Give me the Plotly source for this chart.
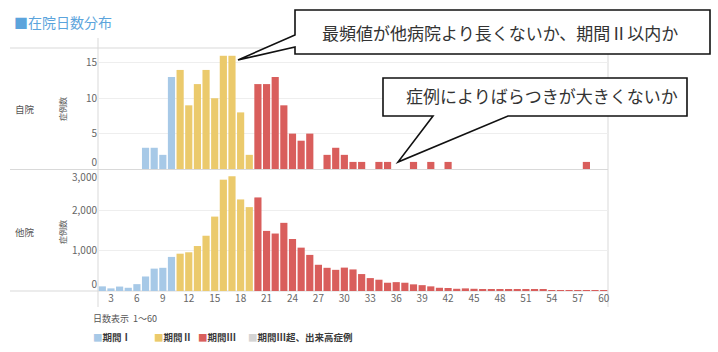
import plotly.graph_objects as go

# ---------------- data ----------------
days_p1 = list(range(2, 11))      # 期間Ⅰ
days_p2 = list(range(11, 20))     # 期間Ⅱ
days_p3 = list(range(20, 61))     # 期間Ⅲ

own_p1 = [0, 0, 0, 0, 0, 3, 3, 2, 13]
own_p2 = [14, 9, 12, 14, 10, 16, 16, 8, 2]
own_p3 = [12, 12, 13, 9, 5, 4, 5, 0, 2, 3, 2, 1, 1, 0, 1, 1, 0, 0, 1, 0,
          1, 0, 1, 0, 0, 0, 0, 0, 0, 0, 0, 0, 0, 0, 0, 0, 0, 0, 1, 0, 0]

other_p1 = [115, 65, 110, 80, 170, 360, 555, 575, 845]
other_p2 = [925, 960, 1115, 1370, 1845, 2760, 2845, 2270, 2080]
other_p3 = [2320, 1490, 1425, 1690, 1290, 1075, 895, 650, 575, 525,
            580, 535, 420, 320, 280, 205, 220, 205, 165, 145,
            115, 80, 75, 55, 65, 55, 50, 50, 30, 25,
            50, 40, 40, 40, 20, 20, 20, 20, 20, 20, 20]

x_ticks = list(range(3, 61, 3))
own_ticks = [5, 10, 15]
other_ticks = [1000, 2000]
other_ticktext = ["1,000", "2,000"]

period_names = ["期間Ⅰ", "期間Ⅱ", "期間Ⅲ", "期間Ⅲ超、出来高症例"]
colors = ["#a7c9e7", "#ebca6c", "#d95e5c", "#d4d4d4"]

FONT = "Noto Sans CJK JP"
W, H = 718, 352
L, R, T, B = 98, 110, 48, 61
PW, PH = W - L - R, H - T - B


def px(x):
    return (x - L) / PW


def py(y):
    return (H - B - y) / PH


fig = go.Figure()

series = [(days_p1, own_p1, other_p1), (days_p2, own_p2, other_p2), (days_p3, own_p3, other_p3)]
for i, (d, own, oth) in enumerate(series):
    fig.add_trace(go.Bar(x=d, y=own, marker_color=colors[i], marker_line_width=0,
                         name=period_names[i], showlegend=False, xaxis="x", yaxis="y"))
    fig.add_trace(go.Bar(x=d, y=oth, marker_color=colors[i], marker_line_width=0,
                         name=period_names[i], showlegend=False, xaxis="x2", yaxis="y2"))

# invisible traces to activate the overlay axes (edge labels)
for ya, xa in [("y3", "x"), ("y4", "x2"), ("y5", "x2")]:
    fig.add_trace(go.Scatter(x=[None], y=[None], xaxis=xa, yaxis=ya, showlegend=False,
                             hoverinfo="skip"))

tickfont = dict(family=FONT, size=10, color="#666666")
grid = "#eeeeee"
top_dom = [py(169), 1]
bot_dom = [0, py(170)]

fig.update_layout(
    width=W, height=H,
    margin=dict(l=L, r=R, t=T, b=B, pad=0),
    paper_bgcolor="white", plot_bgcolor="white",
    font=dict(family=FONT, color="#555555"),
    bargap=0.17,
    showlegend=False,
    xaxis=dict(domain=[0, 1], anchor="y", range=[1.5, 60.5], showticklabels=False,
               showgrid=False, zeroline=False, showline=False, ticks=""),
    yaxis=dict(domain=top_dom, anchor="x", range=[0, 17.1], tickvals=own_ticks,
               showgrid=True, gridcolor=grid, zeroline=False, showline=False, ticks="",
               tickfont=tickfont),
    yaxis3=dict(domain=top_dom, overlaying="y", anchor="x", range=[0, 17.1], tickvals=[0],
                showgrid=False, zeroline=False, showline=False, ticks="",
                ticklabelposition="outside top", tickfont=tickfont),
    xaxis2=dict(domain=[0, 1], anchor="y2", range=[1.5, 60.5], tickvals=x_ticks,
                showgrid=False, zeroline=False, showline=False, ticks="",
                tickfont=tickfont),
    yaxis2=dict(domain=bot_dom, anchor="x2", range=[0, 3000], tickvals=other_ticks,
                ticktext=other_ticktext, showgrid=True, gridcolor=grid, zeroline=False,
                showline=False, ticks="", tickfont=tickfont),
    yaxis4=dict(domain=bot_dom, overlaying="y2", anchor="x2", range=[0, 3000], tickvals=[0],
                showgrid=False, zeroline=False, showline=False, ticks="",
                ticklabelposition="outside top", tickfont=tickfont),
    yaxis5=dict(domain=bot_dom, overlaying="y2", anchor="x2", range=[0, 3000], tickvals=[3000],
                ticktext=["3,000"], showgrid=False, zeroline=False, showline=False, ticks="",
                ticklabelposition="outside bottom", tickfont=tickfont),
)

line_c = "#d9d9d9"
shapes = []
for yy in [48, 169.5, 291]:
    shapes.append(dict(type="line", xref="paper", yref="paper", x0=px(10), x1=px(608),
                       y0=py(yy), y1=py(yy), line=dict(color=line_c, width=1), layer="below"))
for xx in [98, 608]:
    shapes.append(dict(type="line", xref="paper", yref="paper", x0=px(xx), x1=px(xx),
                       y0=py(38), y1=py(307), line=dict(color=line_c, width=1), layer="below"))


def path(points):
    s = "M " + " L ".join(f"{px(a):.5f},{py(b):.5f}" for a, b in points) + " Z"
    return s


bubble1 = [(295, 10), (710, 10), (710, 54), (295, 54), (295, 47), (238, 60), (295, 35)]
bubble2 = [(383, 78), (687, 78), (687, 116), (508, 116), (398, 162), (433, 116), (383, 116)]
for bpts in [bubble1, bubble2]:
    shapes.append(dict(type="path", xref="paper", yref="paper", path=path(bpts),
                       fillcolor="white", line=dict(color="#111111", width=1.6), layer="above"))
fig.update_layout(shapes=shapes)

ann = []
ann.append(dict(text="■在院日数分布", x=px(12), y=py(22), xref="paper", yref="paper",
                xanchor="left", yanchor="middle", showarrow=False,
                font=dict(family=FONT, size=14, color="#5ba4dc")))
for label, yy in [("自院", 109), ("他院", 232)]:
    ann.append(dict(text=label, x=px(13), y=py(yy), xref="paper", yref="paper",
                    xanchor="left", yanchor="middle", showarrow=False,
                    font=dict(family=FONT, size=9.5, color="#555555")))
    ann.append(dict(text="症例数", x=px(62), y=py(yy), xref="paper", yref="paper",
                    xanchor="center", yanchor="middle", showarrow=False, textangle=-90,
                    font=dict(family=FONT, size=8, color="#555555")))
ann.append(dict(text="日数表示  1～60", x=px(91), y=py(318), xref="paper", yref="paper",
                xanchor="left", yanchor="middle", showarrow=False,
                font=dict(family=FONT, size=9, color="#555555")))
legend_x = [91, 152, 196, 246]
for name, c, xx in zip(period_names, colors, legend_x):
    ann.append(dict(text=f"<span style='color:{c}'>■</span><b>{name}</b>", x=px(xx), y=py(337),
                    xref="paper", yref="paper", xanchor="left", yanchor="middle",
                    showarrow=False, font=dict(family=FONT, size=9.5, color="#3a3a3a")))
ann.append(dict(text="最頻値が他病院より長くないか、期間Ⅱ以内か", x=px(500), y=py(32),
                xref="paper", yref="paper", xanchor="center", yanchor="middle",
                showarrow=False, font=dict(family=FONT, size=17, color="#333333")))
ann.append(dict(text="症例によりばらつきが大きくないか", x=px(542), y=py(95),
                xref="paper", yref="paper", xanchor="center", yanchor="middle",
                showarrow=False, font=dict(family=FONT, size=17, color="#333333")))
fig.update_layout(annotations=ann)

fig.write_html("out.html")
